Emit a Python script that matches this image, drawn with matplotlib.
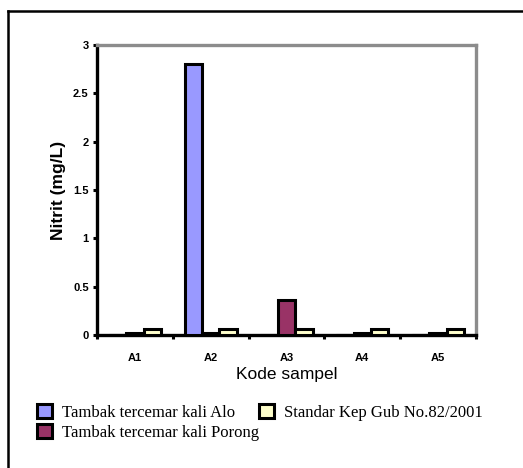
import matplotlib
matplotlib.use("Agg")
import matplotlib.pyplot as plt
import numpy as np
from matplotlib.patches import Patch
from matplotlib.lines import Line2D

# data
samples  = ["A1", "A2", "A3", "A4", "A5"]
alo      = [0.0, 2.8, 0.0, 0.0, 0.0]
porong   = [0.02, 0.02, 0.36, 0.02, 0.02]
standar  = [0.06, 0.06, 0.06, 0.06, 0.06]
series_labels = ["Tambak tercemar kali Alo",
                 "Tambak tercemar kali Porong",
                 "Standar Kep Gub No.82/2001"]
colors   = ["#9999FF", "#993366", "#FFFFCC"]
yticks   = [0, 0.5, 1, 1.5, 2, 2.5, 3]

plt.rcParams["font.family"] = ["Liberation Sans", "DejaVu Sans"]

fig = plt.figure(figsize=(5.23, 4.68), dpi=100)
ax = fig.add_axes([0.1855, 0.2842, 0.7245, 0.6196])

x = np.arange(len(samples))
w = 0.23
for off, vals, col in zip([-w, 0, w], [alo, porong, standar], colors):
    ax.bar(x + off, vals, width=w, color=col, edgecolor="black",
           linewidth=2.2, zorder=3)

ax.set_xlim(-0.5, len(samples) - 0.5)
ax.set_ylim(0, 3)
ax.set_yticks(yticks)
ax.set_yticklabels([f"{v:g}" for v in yticks], fontsize=8, fontweight="bold")

# tick marks on category boundaries, labels at centres
ax.set_xticks(np.arange(-0.5, len(samples)))
ax.set_xticklabels([])
ax.set_xticks(x, minor=True)
ax.set_xticklabels(samples, minor=True, fontsize=8, fontweight="bold")
ax.tick_params(axis="x", which="minor", length=0, pad=13)
ax.tick_params(axis="x", which="major", length=3, width=2.2)
ax.tick_params(axis="y", length=3, width=2.2, pad=3)

for side in ["left", "bottom"]:
    ax.spines[side].set_linewidth(2.4)
    ax.spines[side].set_color("black")
for side in ["top", "right"]:
    ax.spines[side].set_linewidth(2.4)
    ax.spines[side].set_color("#8c8c8c")

ax.set_ylabel("Nitrit (mg/L)", fontsize=12.5, fontweight="bold", labelpad=5)
ax.set_xlabel("Kode sampel", fontsize=12.5, labelpad=3)

handles = [Patch(facecolor=c, edgecolor="black", linewidth=2.2) for c in colors]
fig.legend(handles, series_labels, ncol=2, loc="upper left",
           bbox_to_anchor=(0.058, 0.15), frameon=False,
           prop={"family": ["Liberation Serif"], "size": 12},
           handlelength=0.9, handleheight=0.9, handletextpad=0.6,
           labelspacing=0.2, columnspacing=0.0, borderaxespad=0)

# outer frame (left and top edges visible)
fig.add_artist(Line2D([0.0153, 0.0153], [0.0, 0.9765], color="black",
                      linewidth=1.8, transform=fig.transFigure))
fig.add_artist(Line2D([0.0153, 1.0], [0.9765, 0.9765], color="black",
                      linewidth=1.8, transform=fig.transFigure))

fig.savefig("out.png", dpi=100)
